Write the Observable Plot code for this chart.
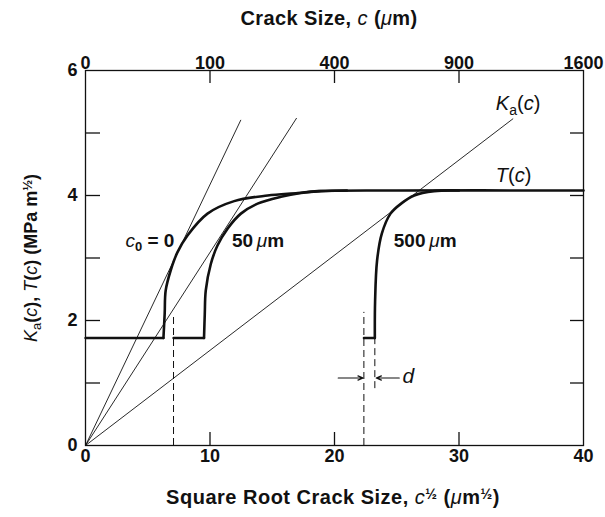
<!DOCTYPE html>
<html><head><meta charset="utf-8">
<script src="https://cdn.jsdelivr.net/npm/d3@7"></script>
<script src="https://cdn.jsdelivr.net/npm/@observablehq/plot@0.6"></script>
<style>body{margin:0;background:#fff} svg{display:block;background:#fff}</style>
</head><body><div id="chart"></div>
<script>
// ---- data ----
const xTickValues = [0, 10, 20, 30, 40];          // sqrt(c), µm^1/2
const xInnerTicks = [10, 20, 30];
const yTickValues = [0, 2, 4, 6];                 // MPa m^1/2
const yInnerTicks = [1, 2, 3, 4, 5];
const topTickValues = [0, 100, 400, 900, 1600];   // c, µm
const topTickLabels = ["0", "100", "400", "900", "1600"];

// T(c) curves: flat part (below d) and rising part
const c0Flat = [[0, 1.72], [6.26, 1.72]];
const c0Rise = [[6.26, 1.72], [6.36, 2.11], [6.44, 2.48], [6.84, 2.8], [7.38, 3.09], [8.19, 3.36],
  [9.8, 3.71], [11.94, 3.91], [14.63, 4.0], [17.05, 4.04], [18.66, 4.07], [25, 4.08], [40, 4.08]];
const c50Flat = [[7.07, 1.72], [9.52, 1.72]];
const c50Rise = [[9.52, 1.72], [9.58, 2.1], [9.66, 2.48], [10.06, 2.9], [10.6, 3.2], [11.41, 3.47],
  [12.48, 3.71], [13.82, 3.87], [15.7, 3.98], [17.31, 4.04], [18.9, 4.07], [21, 4.08]];
const c500Flat = [[22.36, 1.72], [23.24, 1.72]];
const c500Rise = [[23.24, 1.72], [23.26, 2.3], [23.42, 2.96], [23.8, 3.39], [24.5, 3.71],
  [25.35, 3.87], [26.4, 4.0], [28.0, 4.07], [30, 4.08]];

// applied stress-intensity lines K_a(c) from the origin
const kaLines = [
  {x1: 0, y1: 0, x2: 12.48, y2: 5.21},
  {x1: 0, y1: 0, x2: 16.96, y2: 5.24},
  {x1: 0, y1: 0, x2: 34.35, y2: 5.23}
];
// dashed markers (c0 = 50 µm, c0 = 500 µm, c0 + d)
const dashedLines = [
  {x: 7.07, y1: 0, y2: 2.05},
  {x: 22.36, y1: 0, y2: 2.13},
  {x: 23.24, y1: 0.91, y2: 1.71}
];
const arrowsD = [
  {x1: 20.3, x2: 22.3, y: 1.08},
  {x1: 25.2, x2: 23.35, y: 1.08}
];

// in-plot labels (data coordinates of the text start / baseline)
const labelKa = {x: 33.0, y: 5.36};
const labelT = {x: 33.0, y: 4.21};
const labelC0 = {x: 3.25, y: 3.17};
const label50 = {x: 11.8, y: 3.17};
const label500 = {x: 24.8, y: 3.17};
const labelD = {x: 25.5, y: 1.0};

const FONT = "Liberation Sans, Arial, Helvetica, sans-serif";
const INK = "#111";

const W = 605, H = 517;
const mL = 85, mR = 22, mT = 70, mB = 72;
const innerW = W - mL - mR, innerH = H - mT - mB;

const line = (data, sw, curve) => Plot.line(data, {x: d => d[0], y: d => d[1], stroke: INK, strokeWidth: sw, curve, strokeLinejoin: "round", strokeLinecap: "round"});

const svg = Plot.plot({
  width: W, height: H,
  marginLeft: mL, marginRight: mR, marginTop: mT, marginBottom: mB,
  style: {fontFamily: FONT, color: INK, background: "#fff"},
  x: {domain: [0, 40], axis: null},
  y: {domain: [0, 6], axis: null},
  marks: [
    Plot.frame({stroke: INK, strokeWidth: 1.3}),
    Plot.tickX(xInnerTicks, {x: d => d, insetTop: innerH - 13, stroke: INK, strokeWidth: 1.3}),
    Plot.tickX(xInnerTicks, {x: d => d, insetBottom: innerH - 13, stroke: INK, strokeWidth: 1.3}),
    Plot.tickY(yInnerTicks, {y: d => d, insetRight: innerW - 15, stroke: INK, strokeWidth: 1.3}),
    Plot.tickY(yInnerTicks, {y: d => d, insetLeft: innerW - 13, stroke: INK, strokeWidth: 1.3}),
    Plot.link(kaLines, {x1: "x1", y1: "y1", x2: "x2", y2: "y2", stroke: INK, strokeWidth: 0.9}),
    Plot.ruleX(dashedLines, {x: "x", y1: "y1", y2: "y2", stroke: INK, strokeWidth: 1, strokeDasharray: "7,4"}),
    Plot.arrow(arrowsD, {x1: "x1", x2: "x2", y1: "y", y2: "y", stroke: INK, strokeWidth: 1.2, headLength: 7, headAngle: 45}),
    line(c0Flat, 2.4, "linear"), line(c0Rise, 2.6, "catmull-rom"),
    line(c50Flat, 2.4, "linear"), line(c50Rise, 2.6, "catmull-rom"),
    line(c500Flat, 2.4, "linear"), line(c500Rise, 2.6, "catmull-rom"),
    Plot.text(xTickValues, {x: d => d, frameAnchor: "bottom", dy: 16, text: d => String(d), fontSize: 18, fontWeight: "bold", fill: INK}),
    Plot.text(topTickValues, {x: d => Math.sqrt(d), frameAnchor: "top", dy: -14, text: (d, i) => topTickLabels[i], fontSize: 18, fontWeight: "bold", fill: INK}),
    Plot.text(yTickValues, {y: d => d, frameAnchor: "left", dx: -8, textAnchor: "end", text: d => String(d), fontSize: 18, fontWeight: "bold", fill: INK})
  ]
});

document.getElementById("chart").appendChild(svg);

// ---- rich text labels (italics, sub/superscripts) ----
const sx = svg.scale("x"), sy = svg.scale("y");
const root = d3.select(svg).append("g").attr("font-family", FONT).attr("fill", INK).attr("text-anchor", "start");

function rich(x, y, parts, size, attrs = {}) {
  const t = root.append("text").attr("x", x).attr("y", y).attr("font-size", size).attr("text-anchor", "start");
  for (const [k, v] of Object.entries(attrs)) t.attr(k, v);
  let shift = 0;
  for (const p of parts) {
    const s = t.append("tspan").text(p.t);
    const target = p.shift || 0;
    if (target !== shift) { s.attr("dy", target - shift); shift = target; }
    s.attr("font-size", p.size || size);
    s.attr("font-style", p.it ? "italic" : "normal");
    s.attr("font-weight", p.b ? "bold" : "normal");
  }
  return t;
}

// K_a(c)
rich(sx.apply(labelKa.x), sy.apply(labelKa.y), [
  {t: "K", it: true}, {t: "a", size: 14, shift: 5}, {t: "(", shift: 0}, {t: "c", it: true}, {t: ")"}
], 20);
// T(c)
rich(sx.apply(labelT.x), sy.apply(labelT.y), [
  {t: "T", it: true}, {t: "("}, {t: "c", it: true}, {t: ")"}
], 20);
// c0 = 0
rich(sx.apply(labelC0.x), sy.apply(labelC0.y), [
  {t: "c", it: true}, {t: "0", size: 13, shift: 4, b: true}, {t: " = 0", b: true, shift: 0}
], 19);
// 50 µm
rich(sx.apply(label50.x), sy.apply(label50.y), [
  {t: "50", b: true}, {t: "\u2009"}, {t: "\u03bc", it: true}, {t: "m", b: true}
], 19);
// 500 µm
rich(sx.apply(label500.x), sy.apply(label500.y), [
  {t: "500", b: true}, {t: "\u2009"}, {t: "\u03bc", it: true}, {t: "m", b: true}
], 19);
// d
rich(sx.apply(labelD.x), sy.apply(labelD.y), [{t: "d", it: true}], 21);

// top axis title
rich(329, 25, [
  {t: "Crack Size, ", b: true}, {t: "c", it: true}, {t: " (", b: true}, {t: "\u03bc", it: true}, {t: "m)", b: true}
], 20, {"text-anchor": "middle", "letter-spacing": "0.4"});

// bottom axis title
rich(333, 504, [
  {t: "Square Root Crack Size, ", b: true}, {t: "c", it: true}, {t: "\u00bd", size: 14, shift: -5, b: true},
  {t: " (", b: true, shift: 0}, {t: "\u03bc", it: true}, {t: "m", b: true}, {t: "\u00bd", size: 14, shift: -5, b: true}, {t: ")", b: true, shift: 0}
], 20, {"text-anchor": "middle", "letter-spacing": "0.5"});

// left axis title (rotated)
rich(0, 0, [
  {t: "K", it: true}, {t: "a", size: 13, shift: 4}, {t: "(", shift: 0, b: true}, {t: "c", it: true}, {t: "), ", b: true},
  {t: "T", it: true}, {t: "(", b: true}, {t: "c", it: true}, {t: ") (MPa m", b: true}, {t: "\u00bd", size: 13, shift: -5, b: true}, {t: ")", b: true, shift: 0}
], 18, {"text-anchor": "middle", transform: "translate(37,258) rotate(-90)"});
</script>
</body></html>
